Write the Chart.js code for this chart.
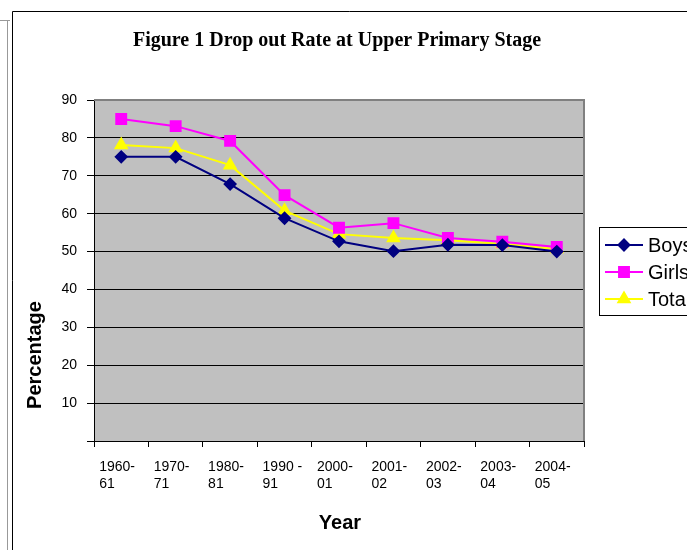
<!DOCTYPE html>
<html>
<head>
<meta charset="utf-8">
<script src="https://cdn.jsdelivr.net/npm/chart.js@4"></script>
<style>
  html, body { margin: 0; padding: 0; background: #fff; }
  #wrap { width: 687px; height: 550px; }
</style>
</head>
<body>
<div id="wrap"><canvas id="dropoutChart" width="687" height="550"></canvas></div>
<script>
// ── data ────────────────────────────────────────────
const years = [['1960-', '61'], ['1970-', '71'], ['1980-', '81'], ['1990 -', '91'], ['2000-', '01'],
               ['2001-', '02'], ['2002-', '03'], ['2003-', '04'], ['2004-', '05']];
const boys  = [75, 75, 67.8, 58.8, 52.7, 50.1, 51.8, 51.7, 50.0];
const girls = [85, 83.1, 79.2, 64.9, 56.3, 57.5, 53.6, 52.6, 51.2];
const total = [78.1, 77.3, 72.8, 60.8, 54.6, 53.6, 53.0, 52.0, 50.7];
const yTicks = [0, 10, 20, 30, 40, 50, 60, 70, 80, 90];

const SANS = '"Liberation Sans", Arial, sans-serif';

// ── page frame, plot background, titles, legend ─────
const decorPlugin = {
  id: 'decor',
  beforeDraw(chart) {
    const { ctx, chartArea: a } = chart;
    ctx.save();
    ctx.fillStyle = '#fff';
    ctx.fillRect(0, 0, chart.width, chart.height);
    // page edges
    ctx.strokeStyle = '#999';
    ctx.lineWidth = 1;
    ctx.beginPath();
    ctx.moveTo(0, 20.5); ctx.lineTo(10, 20.5);
    ctx.moveTo(7.5, 20); ctx.lineTo(7.5, 550);
    ctx.stroke();
    ctx.strokeStyle = '#000';
    ctx.beginPath();
    ctx.moveTo(12.5, 550); ctx.lineTo(12.5, 11.5); ctx.lineTo(687, 11.5);
    ctx.stroke();
    // plot area
    ctx.fillStyle = '#C0C0C0';
    ctx.fillRect(a.left, a.top, a.right - a.left, a.bottom - a.top);
    ctx.restore();
  },
  afterDatasetsDraw(chart) {
    const { ctx, chartArea: a } = chart;
    ctx.save();
    // plot border top/right
    ctx.strokeStyle = '#808080';
    ctx.lineWidth = 2;
    ctx.beginPath();
    ctx.moveTo(a.left, a.top); ctx.lineTo(a.right, a.top); ctx.lineTo(a.right, a.bottom);
    ctx.stroke();

    ctx.fillStyle = '#000';
    ctx.textAlign = 'center';
    ctx.textBaseline = 'middle';
    ctx.font = 'bold 20px "Liberation Serif", "Times New Roman", serif';
    ctx.fillText('Figure 1 Drop out Rate at Upper Primary Stage', 337, 41);
    ctx.font = 'bold 20px ' + SANS;
    ctx.fillText('Year', 340, 523);
    ctx.translate(35, 355);
    ctx.rotate(-Math.PI / 2);
    ctx.fillText('Percentage', 0, 0);
    ctx.restore();

    // legend
    ctx.save();
    ctx.fillStyle = '#fff';
    ctx.fillRect(599, 227, 100, 88);
    ctx.strokeStyle = '#000';
    ctx.lineWidth = 1;
    ctx.strokeRect(599.5, 227.5, 100, 88);
    const rows = [245, 272, 299];
    chart.data.datasets.forEach((ds, i) => {
      const y = rows[i];
      ctx.strokeStyle = ds.borderColor;
      ctx.lineWidth = 2;
      ctx.beginPath();
      ctx.moveTo(605, y); ctx.lineTo(643, y);
      ctx.stroke();
      ctx.fillStyle = ds.backgroundColor;
      Chart.helpers.drawPoint(ctx, { pointStyle: ds.pointStyle, radius: ds.pointRadius, borderWidth: 1 }, 624, y);
      ctx.fillStyle = '#000';
      ctx.font = '20px ' + SANS;
      ctx.textAlign = 'left';
      ctx.textBaseline = 'middle';
      ctx.fillText(ds.label, 648, y + 1);
    });
    ctx.restore();
  }
};

const ctx = document.getElementById('dropoutChart');
new Chart(ctx, {
  type: 'line',
  data: {
    labels: years,
    datasets: [
      { label: 'Boys',  data: boys,  borderColor: '#000080', backgroundColor: '#000080',
        pointStyle: 'rectRot', pointRadius: 5.5, borderWidth: 2 },
      { label: 'Girls', data: girls, borderColor: '#FF00FF', backgroundColor: '#FF00FF',
        pointStyle: 'rect', pointRadius: 7, borderWidth: 2 },
      { label: 'Total', data: total, borderColor: '#FFFF00', backgroundColor: '#FFFF00',
        pointStyle: 'triangle', pointRadius: 6.5, borderWidth: 2 }
    ]
  },
  options: {
    responsive: false,
    animation: false,
    layout: { padding: { top: 100, right: 103, left: 0, bottom: 0 } },
    plugins: { legend: { display: false }, title: { display: false }, tooltip: { enabled: false } },
    elements: { line: { tension: 0 }, point: { borderWidth: 1 } },
    scales: {
      x: {
        offset: true,
        afterFit: s => { s.height = 109; },
        grid: { drawOnChartArea: false, drawTicks: true, tickLength: 6, color: '#000', offset: true },
        border: { color: '#000', width: 1 },
        ticks: { color: '#000', font: { family: SANS, size: 14, lineHeight: 1.2 },
                 padding: 12, maxRotation: 0, autoSkip: false, align: 'start', labelOffset: -22 }
      },
      y: {
        min: 0, max: 90,
        afterFit: s => { s.width = 94; },
        afterBuildTicks: s => { s.ticks = yTicks.map(v => ({ value: v })); },
        grid: { color: '#000', tickLength: 7, drawTicks: true },
        border: { color: '#000', width: 1 },
        ticks: { color: '#000', font: { family: SANS, size: 14 },
                 padding: 10, callback: v => (v === 0 ? '' : v) }
      }
    }
  },
  plugins: [decorPlugin]
});
</script>
</body>
</html>
